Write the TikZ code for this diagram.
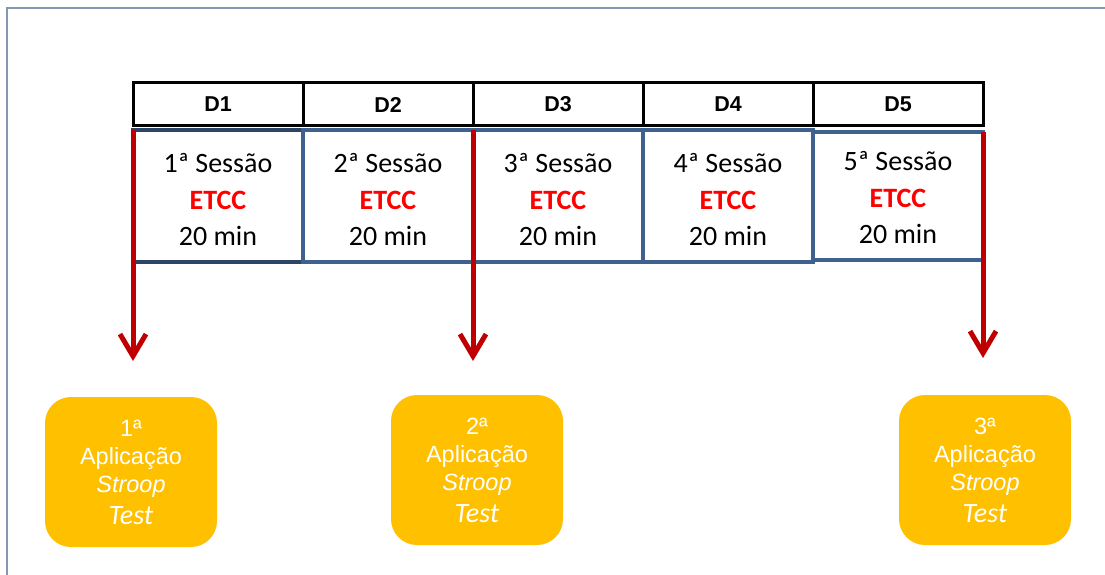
\documentclass[tikz,border=0pt]{standalone}
\usepackage{fontspec}
\setmainfont{Carlito}
\newfontfamily\arialf{Liberation Sans}
\usetikzlibrary{arrows.meta}
\definecolor{framecol}{HTML}{8497B0}
\definecolor{boxblue}{HTML}{3F6190}
\definecolor{boxnavy}{HTML}{2C4466}
\definecolor{arrred}{HTML}{C00000}
\definecolor{etccred}{HTML}{FF0000}
\definecolor{gold}{HTML}{FFC000}
\tikzset{
  daycell/.style={draw=black, line width=3pt, fill=white, minimum width=170pt, minimum height=43pt,
    inner sep=0pt, outer sep=0pt, font=\arialf\bfseries\fontsize{21.5}{25}\selectfont},
  sessbox/.style={draw=boxblue, line width=3.5pt, fill=white, minimum width=170pt, minimum height=132pt,
    inner sep=0pt, outer sep=0pt},
  sesstext/.style={align=center, inner sep=0pt, font=\fontsize{28}{36.5}\selectfont},
  testbox/.style={fill=gold, rounded corners=26pt, minimum width=172pt, minimum height=150pt,
    inner sep=0pt, outer sep=0pt, align=center, text=white, font=\arialf\fontsize{23.5}{28}\selectfont},
  redarrow/.style={draw=arrred, line width=5pt, -{Straight Barb[length=22pt,width=26pt,line width=5pt]}}
}
\newcommand{\etcc}{\textcolor{etccred}{\bfseries ETCC}}
\newcommand{\testw}{\fontsize{28}{30}\selectfont\rmfamily\itshape Test}
\begin{document}
\begin{tikzpicture}[x=1pt,y=-1pt]
\useasboundingbox (0,0) rectangle (1105,575);
% frame
\draw[framecol, line width=2pt] (7,575) -- (7,8) -- (1105,8);
% header row
\node[daycell] (h1) at (218,104.5) {D1};
\node[daycell] (h2) at (388,104.5) {D2};
\node[daycell] (h3) at (558,104.5) {D3};
\node[daycell] (h4) at (728,104.5) {D4};
\node[daycell] (h5) at (898,104.5) {D5};
% session row
\node[sessbox, draw=boxnavy] (s1) at (218,196) {};
\node[sessbox] (s2) at (388,196) {};
\node[sessbox] (s3) at (558,196) {};
\node[sessbox] (s4) at (728,196) {};
\node[sessbox, minimum height=128pt] (s5) at (898,196) {};
\node[sesstext] (x1) at ([yshift=-4pt]s1.center) {1ª Sessão\\\etcc\\20 min};
\node[sesstext] (x2) at ([yshift=-4pt]s2.center) {2ª Sessão\\\etcc\\20 min};
\node[sesstext] (x3) at ([yshift=-4pt]s3.center) {3ª Sessão\\\etcc\\20 min};
\node[sesstext] (x4) at ([yshift=-4pt]s4.center) {4ª Sessão\\\etcc\\20 min};
\node[sesstext] (x5) at ([yshift=-2pt]s5.center) {5ª Sessão\\\etcc\\20 min};
% test boxes
\node[testbox] (t1) at (131,472) {1ª\\Aplicação\\\textit{Stroop}\\[4pt]\testw};
\node[testbox] (t2) at (477,470) {2ª\\Aplicação\\\textit{Stroop}\\[4pt]\testw};
\node[testbox] (t3) at (985,470) {3ª\\Aplicação\\\textit{Stroop}\\[4pt]\testw};
% arrow ends
\coordinate (e1) at (133,361);
\coordinate (e2) at (473,361);
\coordinate (e3) at (983,358);
\draw[redarrow] (s1.north west) -- (e1);
\draw[redarrow] (s3.north west) -- (e2);
\draw[redarrow] (s5.north east) -- (e3);
\end{tikzpicture}
\end{document}
